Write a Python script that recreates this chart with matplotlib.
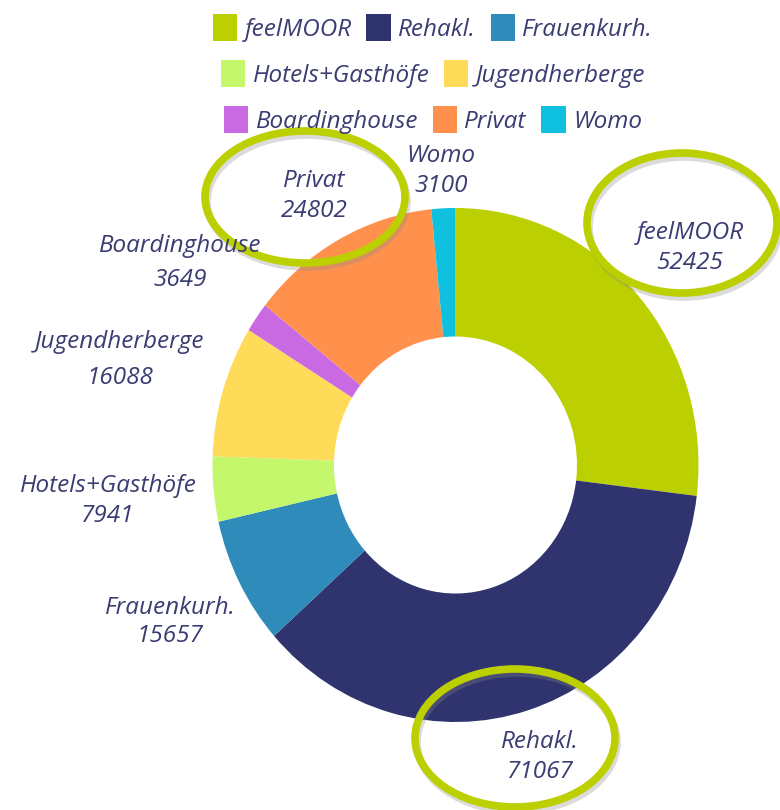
import matplotlib
matplotlib.use("Agg")
import matplotlib.pyplot as plt
from matplotlib.patches import Ellipse

# Data
labels = ["feelMOOR", "Rehakl.", "Frauenkurh.", "Hotels+Gasthöfe",
          "Jugendherberge", "Boardinghouse", "Privat", "Womo"]
values = [52425, 71067, 15657, 7941, 16088, 3649, 24802, 3100]
colors = ["#bccf00", "#2f346e", "#2e8bba", "#c4f76c",
          "#ffdb5a", "#c96ae3", "#ff914d", "#0fc1df"]

txt_color = "#3a3c72"
ring_color = "#bccf00"
fsize = 17.5
plt.rcParams["font.family"] = ["Open Sans", "DejaVu Sans"]

# pixel -> data (pie centre at 455.5,465 ; radius 243 x 257 px)
cx, cy, rx, ry = 455.5, 465, 243, 257
def px(x, y):
    return (x - cx) / rx, (cy - y) / ry

fig = plt.figure(figsize=(7.8, 8.1), dpi=100)
ax = fig.add_axes([0, 0, 1, 1])

wedges, _ = ax.pie(values, colors=colors, startangle=90, counterclock=False,
                   radius=1, wedgeprops=dict(width=0.5, edgecolor="none"))
ax.set_aspect("auto")
ax.set_xlim(px(0, 0)[0], px(780, 0)[0])
ax.set_ylim(px(0, 810)[1], px(0, 0)[1])
ax.axis("off")

# slice labels (name / value), pixel centres
label_pos = {
    "feelMOOR": (690, 248, 30),
    "Rehakl.": (540, 757, 29),
    "Frauenkurh.": (170, 622, 28),
    "Hotels+Gasthöfe": (108, 501, 29),
    "Jugendherberge": (120, 360, 35),
    "Boardinghouse": (180, 263, 34),
    "Privat": (314, 196, 30),
    "Womo": (441, 171, 29),
}
for lab, val in zip(labels, values):
    x, y, gap = label_pos[lab]
    ax.text(*px(x, y - gap / 2), lab, ha="center", va="center",
            fontsize=fsize, style="italic", color=txt_color, zorder=6)
    ax.text(*px(x, y + gap / 2), str(val), ha="center", va="center",
            fontsize=fsize, style="italic", color=txt_color, zorder=6)

# highlight rings
rings = [(305, 197, 200, 132), (682, 223, 190, 140), (515, 738, 200, 138)]
for x, y, w, h in rings:
    sx, sy = px(x + 2, y + 4)
    ax.add_patch(Ellipse((sx, sy), w / rx, h / ry, fill=False,
                         lw=5.5, ec="#888888", alpha=0.3, zorder=4))
    ex, ey = px(x, y)
    ax.add_patch(Ellipse((ex, ey), w / rx, h / ry, fill=False,
                         lw=5.5, ec=ring_color, zorder=5))

# legend in three rows
rows = [[0, 1, 2], [3, 4], [5, 6, 7]]
row_y = [2, 48, 94]
for r, yy in zip(rows, row_y):
    leg = fig.legend([wedges[i] for i in r], [labels[i] for i in r],
                     loc="upper center", bbox_to_anchor=(433 / 780, 1 - yy / 810),
                     ncol=len(r), frameon=False, handlelength=1.0,
                     handleheight=1.35, handletextpad=0.3, columnspacing=0.6,
                     borderpad=0, prop=dict(size=fsize, style="italic"))
    for t in leg.get_texts():
        t.set_color(txt_color)

fig.savefig("out.png", dpi=100)
